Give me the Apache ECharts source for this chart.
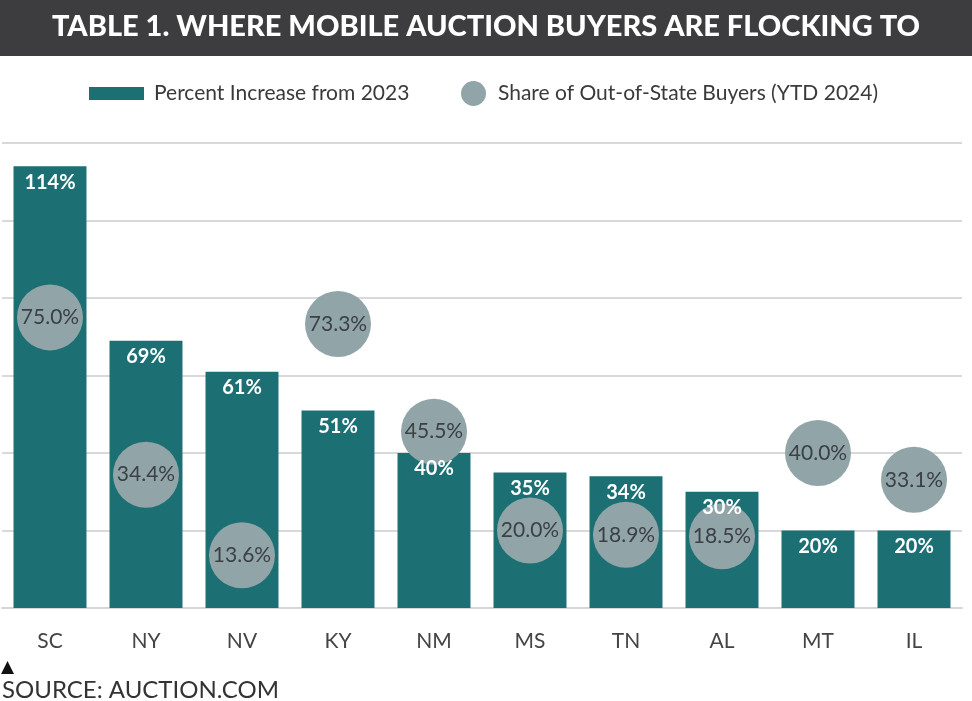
<!DOCTYPE html>
<html>
<head>
<meta charset="utf-8">
<script src="https://cdn.jsdelivr.net/npm/echarts@6/dist/echarts.min.js"></script>
<style>
html,body{margin:0;padding:0;background:#fff;}
#chart{width:972px;height:701px;}
</style>
</head>
<body>
<div id="chart"></div>
<script>
const categories = ['SC','NY','NV','KY','NM','MS','TN','AL','MT','IL'];
const percentIncrease = [114, 69, 61, 51, 40, 35, 34, 30, 20, 20];
const outOfStateShare = [75.0, 34.4, 13.6, 73.3, 45.5, 20.0, 18.9, 18.5, 40.0, 33.1];
const yTicks = [0, 20, 40, 60, 80, 100, 120];

const barName = 'Percent Increase from 2023';
const dotName = 'Share of Out-of-State Buyers (YTD 2024)';
const FONT = 'Lato, "Noto Sans", sans-serif';

const chart = echarts.init(document.getElementById('chart'));
chart.setOption({
  animation: false,
  backgroundColor: '#ffffff',
  graphic: [
    { type: 'rect', left: 0, top: 0, shape: { width: 972, height: 56 }, style: { fill: '#3d3d3f' }, z: 0 },
    { type: 'text', left: 'center', top: 12,
      style: { text: 'TABLE 1. WHERE MOBILE AUCTION BUYERS ARE FLOCKING TO', fill: '#ffffff',
        font: '900 29px Lato, "Noto Sans", sans-serif' }, z: 1 },
    { type: 'text', left: 1, top: 659, style: { text: '▲', fill: '#111', font: '17px "DejaVu Sans", sans-serif' } },
    { type: 'text', left: 2, top: 678, style: { text: 'SOURCE: AUCTION.COM', fill: '#333', font: '400 24px Lato, "Noto Sans", sans-serif' } }
  ],
  legend: [
    { data: [barName], left: 84, top: 78, itemWidth: 55, itemHeight: 13, itemGap: 10,
      icon: 'rect', textStyle: { fontFamily: FONT, fontSize: 21, color: '#3a3a3a', padding: [0,0,0,5] } },
    { data: [dotName], left: 456, top: 76, itemWidth: 25, itemHeight: 25,
      icon: 'circle', textStyle: { fontFamily: FONT, fontSize: 21, color: '#3a3a3a', padding: [0,0,0,7] } }
  ],
  grid: { left: 2, right: 10, top: 143, bottom: 93 },
  xAxis: {
    type: 'category', data: categories,
    axisLine: { show: true, lineStyle: { color: '#d6d6d6', width: 2 } },
    axisTick: { show: false },
    axisLabel: { fontFamily: FONT, fontSize: 21, color: '#444', margin: 23 }
  },
  yAxis: {
    type: 'value', min: yTicks[0], max: yTicks[yTicks.length-1], interval: yTicks[1]-yTicks[0],
    axisLabel: { show: false }, axisLine: { show: false }, axisTick: { show: false },
    splitLine: { lineStyle: { color: '#d9d9d9', width: 2 } }
  },
  series: [
    { name: barName, type: 'bar', data: percentIncrease, barWidth: '76%',
      itemStyle: { color: '#1c7073' }, z: 2 },
    { name: dotName, type: 'scatter', data: outOfStateShare, symbolSize: 66,
      itemStyle: { color: '#91a5a8', opacity: 1 },
      label: { show: true, position: 'inside', formatter: p => p.value.toFixed(1) + '%',
        color: '#3b4045', fontFamily: FONT, fontSize: 21 }, z: 3 },
    { name: 'barLabels', type: 'bar', data: percentIncrease, barWidth: '76%', barGap: '-100%',
      itemStyle: { color: 'rgba(0,0,0,0)' }, silent: true, legendHoverLink: false,
      label: { show: true, position: 'insideTop', distance: 6, formatter: '{c}%',
        color: '#ffffff', fontFamily: FONT, fontWeight: 'bold', fontSize: 20 }, z: 5 }
  ]
});
</script>
</body>
</html>
